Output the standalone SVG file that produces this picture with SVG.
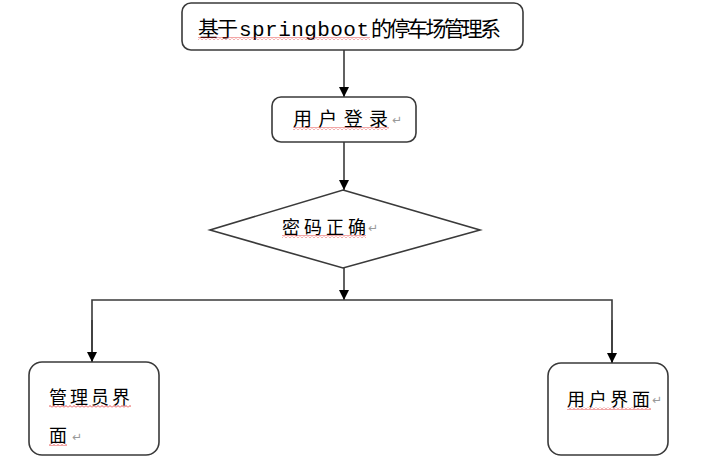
<svg xmlns="http://www.w3.org/2000/svg" width="719" height="474" viewBox="0 0 719 474">
<defs>
<marker id="arr" markerWidth="10" markerHeight="10" viewBox="0 0 10 10" refX="10" refY="5" orient="auto" markerUnits="userSpaceOnUse">
<path d="M0,0 L10,5 L0,10 Z" fill="#000"/>
</marker>
<pattern id="wave" patternUnits="userSpaceOnUse" width="4" height="3">
<path d="M0,2.5 L2,0.5 L4,2.5" fill="none" stroke="#e02020" stroke-width="0.8"/>
</pattern>
<style>
.box{fill:#fff;stroke:#3a3a3a;stroke-width:1.6}
.con{fill:none;stroke:#3a3a3a;stroke-width:1.6}
.t{font-family:"Noto Sans CJK SC","Liberation Sans",sans-serif;fill:#000}
.lat{font-family:"Liberation Mono","Noto Sans CJK SC",monospace}
.ret{font-family:"DejaVu Sans",sans-serif;fill:#999;font-size:12px}
.w{fill:url(#wave)}
</style>
</defs>
<rect width="719" height="474" fill="#fff"/>
<g id="connectors">
<line class="con" x1="344" y1="50" x2="344" y2="97" marker-end="url(#arr)"/>
<line class="con" x1="344" y1="142" x2="344" y2="190" marker-end="url(#arr)"/>
<line class="con" x1="344" y1="268" x2="344" y2="300" marker-end="url(#arr)"/>
<polyline class="con" points="92,362 92,300 612,300 612,363"/>
<line class="con" x1="92" y1="320" x2="92" y2="362" marker-end="url(#arr)"/>
<line class="con" x1="612" y1="320" x2="612" y2="363" marker-end="url(#arr)"/>
</g>
<g id="title">
<rect class="box" x="182" y="3" width="341" height="47" rx="9"/>
<text class="t" y="36" font-size="21"><tspan x="198" textLength="40">基于</tspan><tspan class="lat" x="239" font-size="21" textLength="130">springboot</tspan><tspan x="371" textLength="130">的停车场管理系</tspan></text>
<rect class="w" x="198" y="37" width="172" height="3"/>
</g>
<g id="login">
<rect class="box" x="272" y="97" width="144" height="45" rx="9"/>
<text class="t" x="293" y="126" font-size="19" textLength="95">用户登录</text>
<text class="ret" x="392" y="124">↵</text>
<rect class="w" x="293" y="127" width="96" height="3"/>
</g>
<g id="check">
<polygon class="box" points="343,190 480,230 343,268 210,230"/>
<text class="t" x="282" y="234" font-size="18" textLength="84">密码正确</text>
<text class="ret" x="368" y="232">↵</text>
<rect class="w" x="282" y="235" width="84" height="3"/>
</g>
<g id="admin">
<rect class="box" x="29" y="362" width="130" height="93" rx="13"/>
<text class="t" x="49" y="404" font-size="18" textLength="81">管理员界</text>
<text class="t" x="49" y="442" font-size="18">面</text>
<text class="ret" x="72" y="441">↵</text>
<rect class="w" x="49" y="405" width="82" height="3"/>
<rect class="w" x="49" y="443" width="18" height="3"/>
</g>
<g id="user">
<rect class="box" x="548" y="363" width="120" height="92" rx="13"/>
<text class="t" x="567" y="406" font-size="18" textLength="83">用户界面</text>
<text class="ret" x="652" y="404">↵</text>
<rect class="w" x="567" y="407" width="84" height="3"/>
</g>
</svg>
